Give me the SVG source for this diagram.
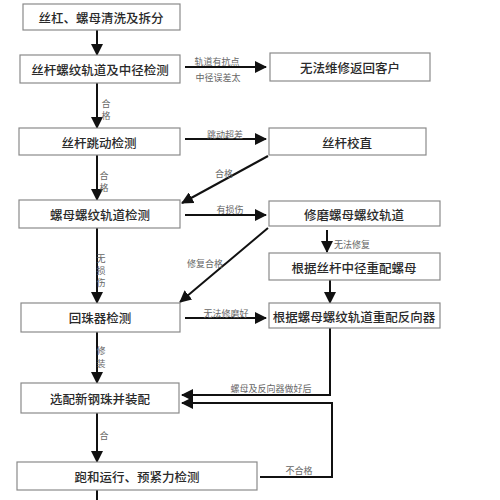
<svg xmlns="http://www.w3.org/2000/svg" width="500" height="500" viewBox="0 0 500 500">
<defs>
<marker id="ah" markerUnits="userSpaceOnUse" markerWidth="12" markerHeight="12" viewBox="0 0 12 12" refX="11" refY="6" orient="auto">
<path d="M0,0 L12,6 L0,12 Z" fill="#111"/>
</marker>
</defs>
<style>
.box{fill:#fff;stroke:#8a8a8a;stroke-width:1.2}
.t{font-family:"Noto Sans CJK SC","Noto Sans",sans-serif;font-size:12.5px;fill:#2a2a2a;text-anchor:middle;dominant-baseline:central;font-weight:500}
.l{font-family:"Noto Sans CJK SC","Noto Sans",sans-serif;font-size:9px;fill:#666;text-anchor:middle;dominant-baseline:central}
.c{fill:none;stroke:#111;stroke-width:2}
</style>
<rect width="500" height="500" fill="#fff"/>
<g id="connectors">
<line class="c" x1="97" y1="30" x2="97" y2="55" marker-end="url(#ah)"/>
<line class="c" x1="185" y1="67" x2="266" y2="67" marker-end="url(#ah)"/>
<line class="c" x1="97" y1="83" x2="97" y2="128" marker-end="url(#ah)"/>
<line class="c" x1="185" y1="139" x2="266" y2="139" marker-end="url(#ah)"/>
<line class="c" x1="268" y1="156" x2="182" y2="203" marker-end="url(#ah)"/>
<line class="c" x1="97" y1="155" x2="97" y2="200" marker-end="url(#ah)"/>
<line class="c" x1="185" y1="215" x2="266" y2="215" marker-end="url(#ah)"/>
<line class="c" x1="327" y1="230" x2="327" y2="252" marker-end="url(#ah)"/>
<line class="c" x1="268" y1="228" x2="180" y2="302" marker-end="url(#ah)"/>
<line class="c" x1="330" y1="280" x2="330" y2="303" marker-end="url(#ah)"/>
<line class="c" x1="97" y1="228" x2="97" y2="303" marker-end="url(#ah)"/>
<line class="c" x1="185" y1="318" x2="266" y2="318" marker-end="url(#ah)"/>
<line class="c" x1="97" y1="332" x2="97" y2="383" marker-end="url(#ah)"/>
<polyline class="c" points="330,328 330,395 182,395" marker-end="url(#ah)"/>
<polyline class="c" points="260,477 332,477 332,403 182,403" marker-end="url(#ah)"/>
<line class="c" x1="97" y1="413" x2="97" y2="462" marker-end="url(#ah)"/>
<line class="c" x1="97" y1="490" x2="97" y2="500"/>
</g>
<g id="labels">
<text class="l" x="217" y="61">轨道有抗点</text>
<text class="l" x="218" y="77">中径误差太</text>
<text class="l" x="106" y="103">合</text>
<text class="l" x="106" y="115">格</text>
<text class="l" x="225" y="134">跳动超差</text>
<text class="l" x="224" y="173">合格</text>
<text class="l" x="104" y="175">合</text>
<text class="l" x="104" y="187">格</text>
<text class="l" x="230" y="209">有损伤</text>
<text class="l" x="352" y="244">无法修复</text>
<text class="l" x="205" y="263">修复合格</text>
<text class="l" x="101" y="258">无</text>
<text class="l" x="101" y="270">损</text>
<text class="l" x="101" y="282">伤</text>
<text class="l" x="226" y="313">无法修磨好</text>
<text class="l" x="101" y="350">修</text>
<text class="l" x="101" y="363">装</text>
<text class="l" x="271" y="388">螺母及反向器做好后</text>
<text class="l" x="104" y="435">合</text>
<text class="l" x="299" y="470">不合格</text>
</g>
<g id="n1"><rect class="box" x="23" y="4" width="157" height="26"/><text class="t" x="101" y="17">丝杠、螺母清洗及拆分</text></g>
<g id="n2"><rect class="box" x="20" y="55" width="160" height="28"/><text class="t" x="100" y="69">丝杆螺纹轨道及中径检测</text></g>
<g id="n3"><rect class="box" x="270" y="53" width="160" height="28"/><text class="t" x="350" y="67">无法维修返回客户</text></g>
<g id="n4"><rect class="box" x="19" y="128" width="161" height="27"/><text class="t" x="99" y="142">丝杆跳动检测</text></g>
<g id="n5"><rect class="box" x="269" y="128" width="157" height="27"/><text class="t" x="347" y="142">丝杆校直</text></g>
<g id="n6"><rect class="box" x="19" y="200" width="161" height="28"/><text class="t" x="100" y="214">螺母螺纹轨道检测</text></g>
<g id="n7"><rect class="box" x="269" y="201" width="171" height="25"/><text class="t" x="354" y="214">修磨螺母螺纹轨道</text></g>
<g id="n8"><rect class="box" x="269" y="253" width="171" height="27"/><text class="t" x="354" y="267">根据丝杆中径重配螺母</text></g>
<g id="n9"><rect class="box" x="21" y="303" width="159" height="29"/><text class="t" x="100" y="317">回珠器检测</text></g>
<g id="n10"><rect class="box" x="269" y="303" width="171" height="25"/><text class="t" x="354" y="316">根据螺母螺纹轨道重配反向器</text></g>
<g id="n11"><rect class="box" x="21" y="383" width="158" height="30"/><text class="t" x="100" y="398">选配新钢珠并装配</text></g>
<g id="n12"><rect class="box" x="17" y="462" width="240" height="28"/><text class="t" x="137" y="476">跑和运行、预紧力检测</text></g>
</svg>
